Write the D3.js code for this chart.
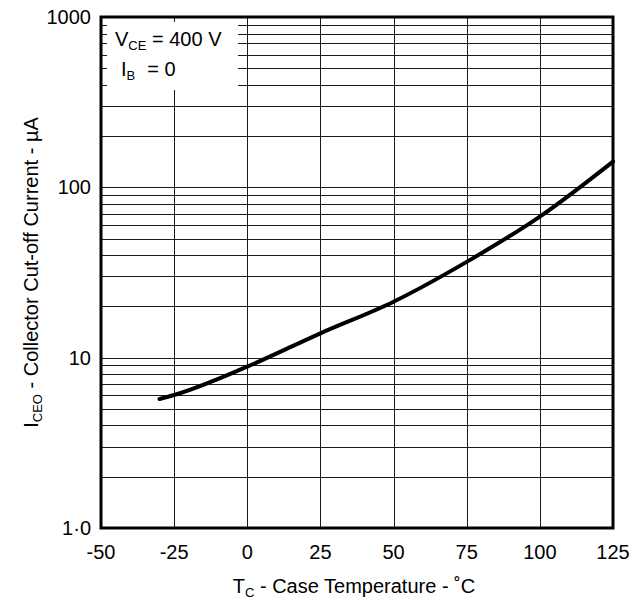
<!DOCTYPE html>
<html>
<head>
<meta charset="utf-8">
<script src="https://cdn.jsdelivr.net/npm/d3@7"></script>
<style>
  body { margin: 0; background: white; }
  svg { display: block; font-family: "Liberation Sans", Arial, Helvetica, sans-serif; }
</style>
</head>
<body>
<script>
// Curve: case temperature (degC) vs ICEO (uA)
const temps = [-30, -25, 0, 25, 50, 75, 100, 125];
const iceo = [5.72, 6.04, 8.86, 13.9, 21.3, 36.5, 67.3, 141.6];

const xTicks = [-50, -25, 0, 25, 50, 75, 100, 125];
const yTicks = [1, 10, 100, 1000];
const yTickLabels = ["1·0", "10", "100", "1000"];

const width = 639, height = 606;
const margin = { left: 101, right: 26, top: 17, bottom: 78 };
const fs = 20, subFs = 13;

const svg = d3.select("body").append("svg")
    .attr("width", width)
    .attr("height", height);

const x = d3.scaleLinear()
    .domain([-50, 125])
    .range([margin.left, width - margin.right]);

const y = d3.scaleLog()
    .domain([1, 1000])
    .range([height - margin.bottom, margin.top]);

// minor + major horizontal grid lines (1..9 in each decade)
const hLines = [];
for (let d = 1; d < 1000; d *= 10) {
  for (let k = 1; k <= 9; k++) hLines.push(d * k);
}

const grid = svg.append("g")
    .attr("stroke", "#1a1a1a")
    .attr("stroke-width", 1)
    .attr("shape-rendering", "crispEdges");

grid.selectAll("line.h")
  .data(hLines.filter(v => v > 1))
  .join("line")
    .attr("class", "h")
    .attr("x1", x.range()[0])
    .attr("x2", x.range()[1])
    .attr("y1", d => Math.round(y(d)) + 0.5)
    .attr("y2", d => Math.round(y(d)) + 0.5);

grid.selectAll("line.v")
  .data(xTicks.slice(1, -1))
  .join("line")
    .attr("class", "v")
    .attr("x1", d => Math.round(x(d)) + 0.5)
    .attr("x2", d => Math.round(x(d)) + 0.5)
    .attr("y1", y.range()[0])
    .attr("y2", y.range()[1]);

// white box behind the conditions text
svg.append("rect")
    .attr("x", x(-50) + 6)
    .attr("y", margin.top + 5)
    .attr("width", 131)
    .attr("height", 68)
    .attr("fill", "white");

// curve
const line = d3.line()
    .x(d => x(d[0]))
    .y(d => y(d[1]))
    .curve(d3.curveMonotoneX);

svg.append("path")
    .datum(temps.map((t, i) => [t, iceo[i]]))
    .attr("fill", "none")
    .attr("stroke", "black")
    .attr("stroke-width", 4)
    .attr("stroke-linecap", "round")
    .attr("d", line);

// frame
svg.append("rect")
    .attr("x", x.range()[0])
    .attr("y", y.range()[1])
    .attr("width", x.range()[1] - x.range()[0])
    .attr("height", y.range()[0] - y.range()[1])
    .attr("fill", "none")
    .attr("stroke", "black")
    .attr("stroke-width", 3);

// tick labels
svg.append("g")
    .attr("font-size", fs)
    .attr("text-anchor", "end")
  .selectAll("text")
  .data(yTicks)
  .join("text")
    .attr("x", margin.left - 10)
    .attr("y", d => y(d))
    .attr("dy", "0.35em")
    .text((d, i) => yTickLabels[i]);

svg.append("g")
    .attr("font-size", fs)
    .attr("text-anchor", "middle")
  .selectAll("text")
  .data(xTicks)
  .join("text")
    .attr("x", d => x(d))
    .attr("y", 559)
    .text(d => d);

// conditions
const cond = svg.append("g").attr("font-size", fs);
const t1 = cond.append("text").attr("x", 115).attr("y", 46);
t1.append("tspan").text("V");
t1.append("tspan").attr("font-size", subFs).attr("dy", 4).text("CE");
t1.append("tspan").attr("dy", -4).text(" = 400 V");

const t2 = cond.append("text").attr("x", 121).attr("y", 76);
t2.append("tspan").text("I");
t2.append("tspan").attr("font-size", subFs).attr("dy", 4).text("B");
t2.append("tspan").attr("dy", -4).attr("dx", 12).text("= 0");

// axis titles
const xt = svg.append("text")
    .attr("x", (x.range()[0] + x.range()[1]) / 2 - 3)
    .attr("y", 593)
    .attr("text-anchor", "middle")
    .attr("font-size", fs);
xt.append("tspan").text("T");
xt.append("tspan").attr("font-size", subFs).attr("dy", 4).text("C");
xt.append("tspan").attr("dy", -4).text(" - Case Temperature - ˚C");

const yt = svg.append("text")
    .attr("transform", `translate(38,${(y.range()[0] + y.range()[1]) / 2}) rotate(-90)`)
    .attr("text-anchor", "middle")
    .attr("font-size", fs);
yt.append("tspan").text("I");
yt.append("tspan").attr("font-size", subFs).attr("dy", 4).text("CEO");
yt.append("tspan").attr("dy", -4).text(" - Collector Cut-off Current - µA");
</script>
</body>
</html>
